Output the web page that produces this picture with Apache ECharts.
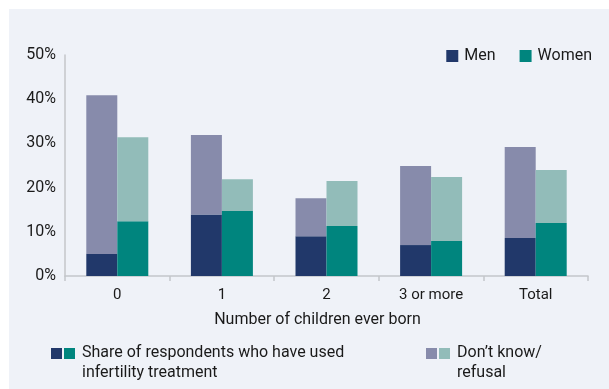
<!DOCTYPE html>
<html>
<head>
<meta charset="utf-8">
<script src="https://cdn.jsdelivr.net/npm/echarts@6/dist/echarts.min.js"></script>
<style>
html,body{margin:0;padding:0;background:#fff;}
#chart{width:609px;height:389px;}
</style>
</head>
<body>
<div id="chart"></div>
<script>
var categories = ['0', '1', '2', '3 or more', 'Total'];
var menUsed = [5.0, 13.9, 9.0, 7.0, 8.6];
var menUnknown = [35.9, 18.0, 8.6, 17.9, 20.6];
var womenUsed = [12.4, 14.7, 11.3, 7.9, 12.0];
var womenUnknown = [19.0, 7.2, 10.2, 14.5, 12.0];
var yTicks = [0, 10, 20, 30, 40, 50];

var FONT = 'Roboto, "Liberation Sans", sans-serif';
var C = {navy:'#21386a', teal:'#00857e', lav:'#878bab', lteal:'#92bcb9', bg:'#eff2f8', text:'#1a1a1a', axis:'#c4c6ca'};

var chart = echarts.init(document.getElementById('chart'), null, {renderer:'canvas'});
chart.setOption({
  backgroundColor:'#ffffff',
  animation:false,
  textStyle:{fontFamily:FONT},
  graphic:[
    {type:'rect', z:-10, silent:true, shape:{x:9, y:9, width:600, height:380}, style:{fill:C.bg}},
    {type:'rect', shape:{x:51, y:348, width:11, height:11}, style:{fill:C.navy}},
    {type:'rect', shape:{x:64, y:348, width:11, height:11}, style:{fill:C.teal}},
    {type:'text', left:82, top:343, style:{text:'Share of respondents who have used\ninfertility treatment', font:'16px '+FONT, fill:C.text, lineHeight:20}},
    {type:'rect', shape:{x:426, y:348, width:11, height:11}, style:{fill:C.lav}},
    {type:'rect', shape:{x:439, y:348, width:11, height:11}, style:{fill:C.lteal}},
    {type:'text', left:457, top:343, style:{text:'Don\u2019t know/\nrefusal', font:'16px '+FONT, fill:C.text, lineHeight:20}}
  ],
  legend:{
    data:['Men','Women'],
    right:12, top:43,
    itemWidth:12, itemHeight:12, itemGap:24,
    icon:'rect',
    textStyle:{fontSize:16, color:C.text, fontFamily:FONT, padding:[0,0,0,1]}
  },
  grid:{left:65, right:21, top:55, bottom:113, containLabel:false},
  xAxis:{
    type:'category',
    data:categories,
    name:'Number of children ever born',
    nameLocation:'middle',
    nameGap:36,
    nameTextStyle:{fontSize:16, color:C.text, fontFamily:FONT, padding:[0,18,0,0]},
    axisLine:{lineStyle:{color:C.axis, width:1.5}},
    axisTick:{show:true, length:5, lineStyle:{color:C.axis, width:1.5}},
    axisLabel:{fontSize:15, color:C.text, margin:12, fontFamily:FONT}
  },
  yAxis:{
    type:'value',
    min:0, max:50, interval:10,
    axisLine:{show:true, lineStyle:{color:C.axis, width:1.5}},
    axisTick:{show:false},
    splitLine:{show:false},
    axisLabel:{fontSize:16, color:C.text, margin:9, fontFamily:FONT, formatter:function(v){return v+'%';}}
  },
  series:[
    {name:'Men', type:'bar', stack:'men', data:menUsed, barWidth:31, barGap:'0%', itemStyle:{color:C.navy}},
    {name:'Men unknown', type:'bar', stack:'men', data:menUnknown, barWidth:31, barGap:'0%', itemStyle:{color:C.lav}},
    {name:'Women', type:'bar', stack:'women', data:womenUsed, barWidth:31, barGap:'0%', itemStyle:{color:C.teal}},
    {name:'Women unknown', type:'bar', stack:'women', data:womenUnknown, barWidth:31, barGap:'0%', itemStyle:{color:C.lteal}}
  ]
});
</script>
</body>
</html>
